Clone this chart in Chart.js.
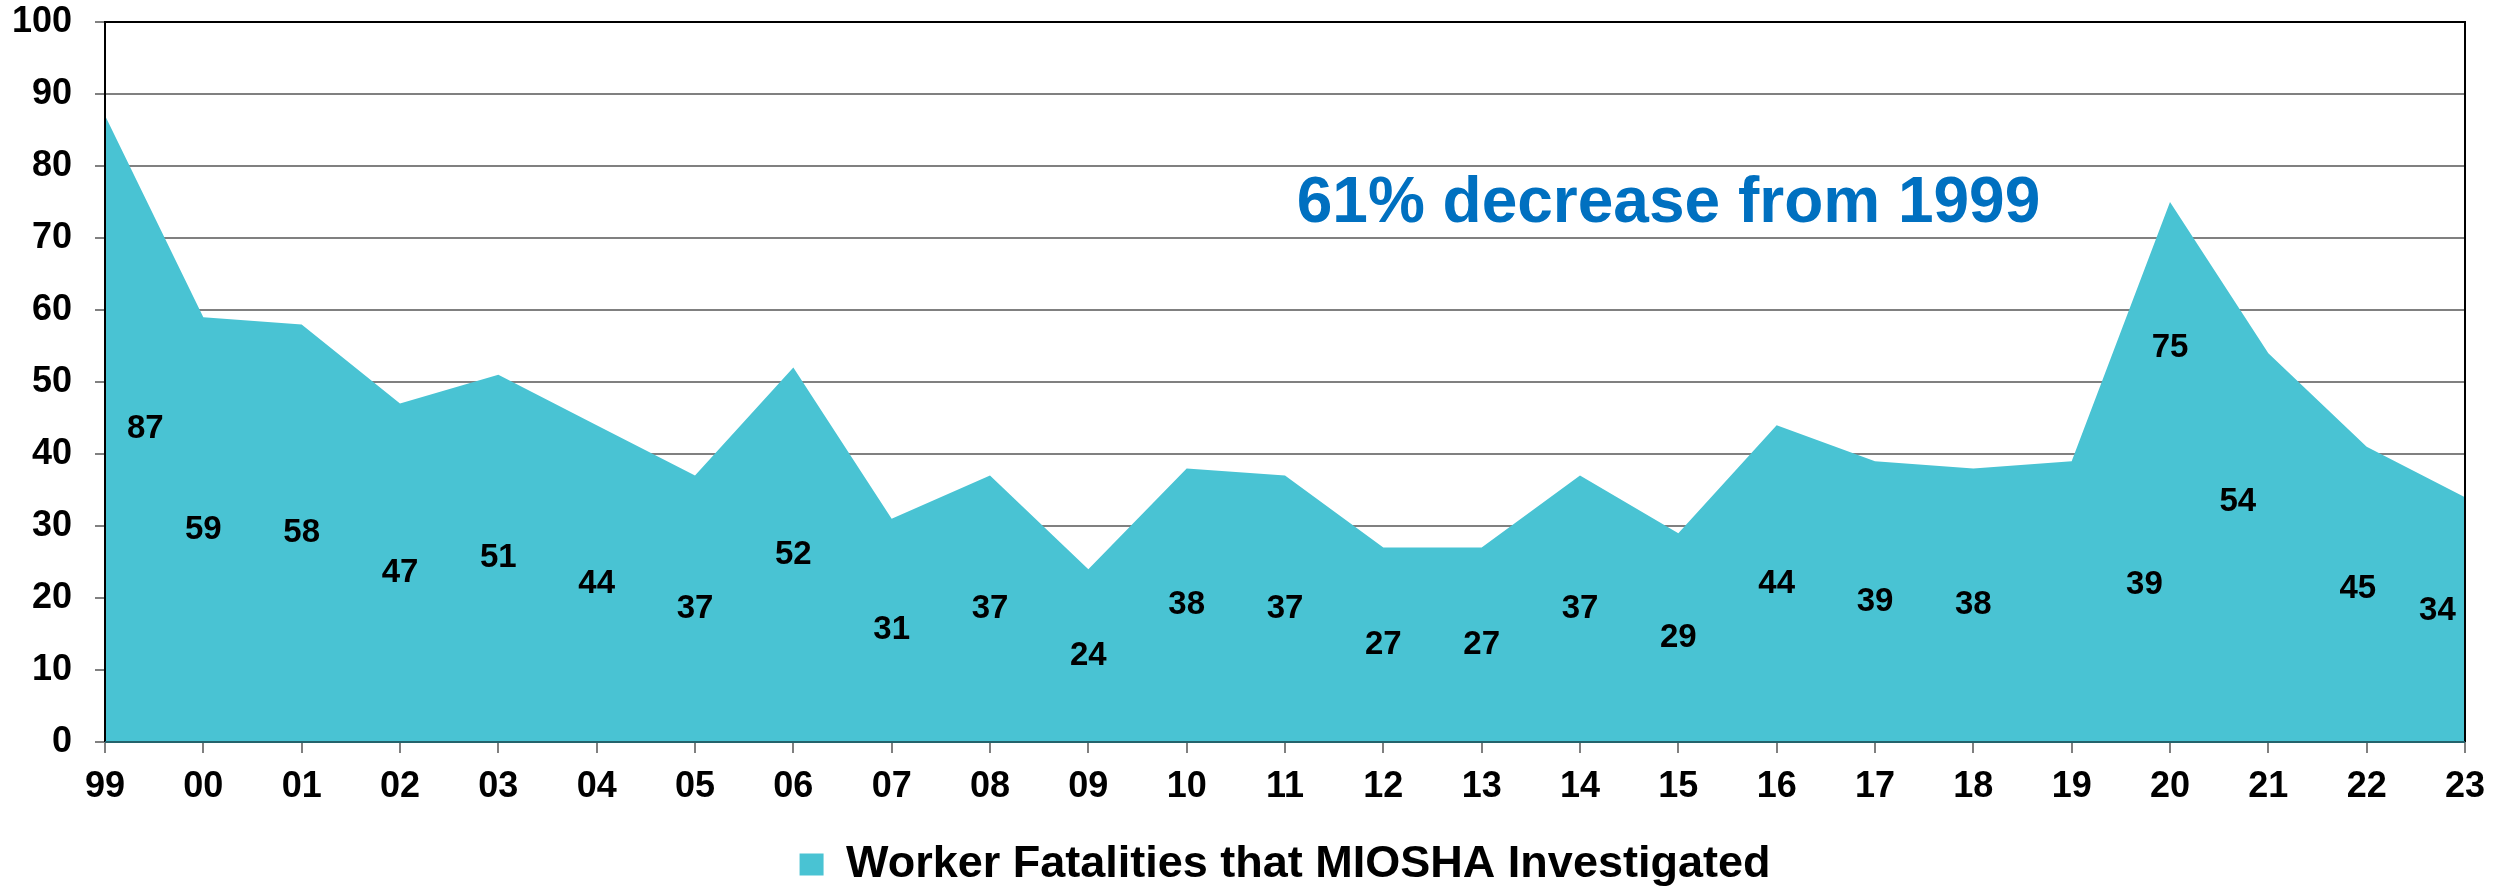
<!DOCTYPE html>
<html>
<head>
<meta charset="utf-8">
<title>Worker Fatalities that MIOSHA Investigated</title>
<script src="https://cdn.jsdelivr.net/npm/chart.js@4.4.1/dist/chart.umd.min.js"></script>
<style>
  html, body { margin: 0; padding: 0; background: #fff; }
  #grafico { display: block; }
</style>
</head>
<body>
<canvas id="grafico" width="2501" height="892"></canvas>
<script>
// datos
var years = ['99','00','01','02','03','04','05','06','07','08','09','10','11','12',
             '13','14','15','16','17','18','19','20','21','22','23'];
var fatalities = [87,59,58,47,51,44,37,52,31,37,24,38,37,27,27,37,29,44,39,38,39,75,54,41,34];
// numbers printed inside the area (22 is printed as 45)
var labelValues = [87,59,58,47,51,44,37,52,31,37,24,38,37,27,27,37,29,44,39,38,39,75,54,45,34];
var yTicks = [0,10,20,30,40,50,60,70,80,90,100];
var seriesName = 'Worker Fatalities that MIOSHA Investigated';
var note = '61% decrease from 1999';

var FONT = '"Liberation Sans", Arial, Helvetica, sans-serif';
var areaColor = '#49C3D3';

// labels sit at half height; a few were moved by hand in the original
var labelNudge = {
    0:  {dx: 0.41, dy: 0},
    20: {dx: 0.74, dy: 2.3},
    21: {dx: 0,    dy: 17.2},
    22: {dx: -0.31, dy: 6.4},
    23: {dx: -0.09, dy: -1.3},
    24: {dx: -0.28, dy: 1.2}
};

var etiquetas = {
    id: 'etiquetas',
    afterDatasetsDraw: function(chart){
        var ctx = chart.ctx;
        var xs = chart.scales.x, ys = chart.scales.y;
        var area = chart.chartArea;
        ctx.save();
        ctx.font = 'bold 33px ' + FONT;
        ctx.fillStyle = '#000';
        ctx.textAlign = 'center';
        ctx.textBaseline = 'middle';
        for (var i = 0; i < labelValues.length; i++) {
            var n = labelNudge[i] || {dx: 0, dy: 0};
            var x = xs.getPixelForValue(i + n.dx);
            var y = ys.getPixelForValue(labelValues[i] / 2 + n.dy);
            ctx.fillText(String(labelValues[i]), x, y);
        }
        // note
        ctx.font = 'bold 64px ' + FONT;
        ctx.fillStyle = '#0070C0';
        ctx.fillText(note, xs.getPixelForValue(15.9), ys.getPixelForValue(74.7));

        // frame
        ctx.lineWidth = 2;
        ctx.strokeStyle = '#000';
        ctx.beginPath();
        ctx.moveTo(area.left, area.bottom);
        ctx.lineTo(area.left, area.top);
        ctx.lineTo(area.right, area.top);
        ctx.lineTo(area.right, area.bottom);
        ctx.stroke();
        ctx.strokeStyle = '#24636c';
        ctx.beginPath();
        ctx.moveTo(area.left, area.bottom);
        ctx.lineTo(area.right, area.bottom);
        ctx.stroke();
        ctx.restore();
    }
};

var chartdata = {
    labels: years,
    datasets: [{
        label: seriesName,
        data: fatalities,
        backgroundColor: areaColor,
        borderColor: areaColor,
        borderWidth: 0,
        pointRadius: 0,
        pointHoverRadius: 0,
        tension: 0,
        fill: 'origin'
    }]
};

var grafico = new Chart(document.getElementById('grafico'), {
    type: 'line',
    data: chartdata,
    plugins: [etiquetas],
    options: {
        responsive: false,
        animation: false,
        devicePixelRatio: 1,
        layout: { padding: { left: 12, right: 36, top: 22, bottom: -5 } },
        plugins: {
            legend: {
                position: 'bottom',
                fullSize: false,
                labels: {
                    boxWidth: 24,
                    boxHeight: 22,
                    padding: 0,
                    color: '#000',
                    font: { family: FONT, size: 45, weight: 'bold' }
                }
            },
            tooltip: { enabled: false }
        },
        scales: {
            x: {
                offset: false,
                border: { display: false },
                grid: { drawOnChartArea: false, drawTicks: true, tickLength: 11, color: '#808080', lineWidth: 2 },
                ticks: { color: '#000', padding: 12, maxRotation: 0, autoSkip: false,
                         font: { family: FONT, size: 36, weight: 'bold' } },
                afterFit: function(scale){ scale.height = 100; }
            },
            y: {
                min: yTicks[0],
                max: yTicks[yTicks.length - 1],
                border: { display: false },
                grid: { color: '#808080', lineWidth: 2, tickLength: 10 },
                ticks: { color: '#000', padding: 23, stepSize: yTicks[1] - yTicks[0],
                         font: { family: FONT, size: 36, weight: 'bold' } },
                afterFit: function(scale){
                    scale.width = 93;
                    scale.paddingTop = 0;
                    scale.paddingBottom = 0;
                }
            }
        }
    }
});
</script>
</body>
</html>
